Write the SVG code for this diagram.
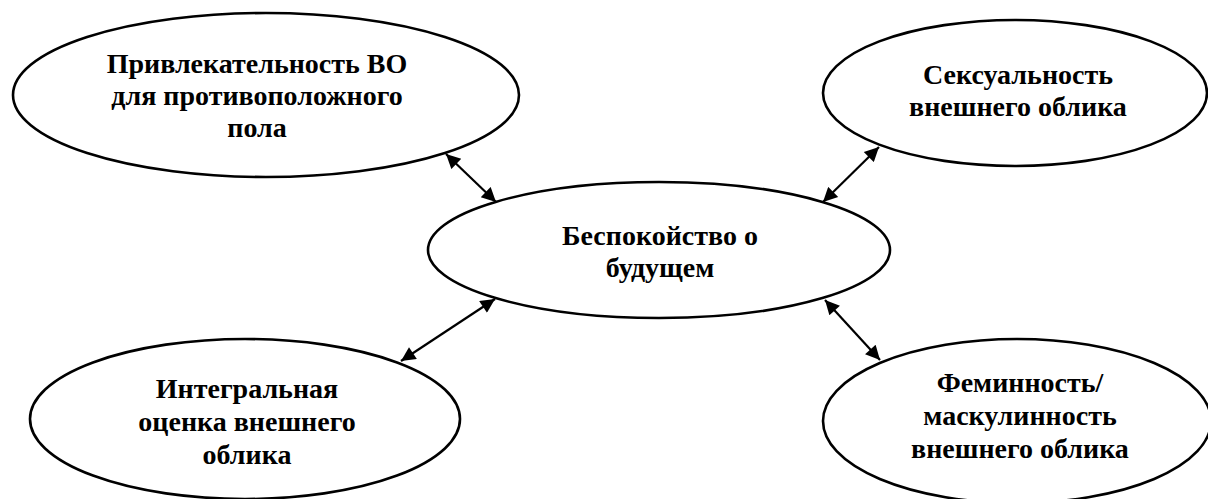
<svg xmlns="http://www.w3.org/2000/svg" width="1208" height="499" viewBox="0 0 1208 499">
<style>
.node ellipse{fill:#fff;stroke:#000;stroke-width:2.6}
.node text{font-family:'Liberation Serif','Times New Roman',serif;font-weight:700;font-size:28px;text-anchor:middle;fill:#000}
.conn line{stroke:#000;stroke-width:2.2}
</style>
<defs>
<marker id="ah" viewBox="0 0 10 10" refX="10" refY="5" markerWidth="7.5" markerHeight="6.5" markerUnits="strokeWidth" orient="auto-start-reverse">
<path d="M0,0 L10,5 L0,10 Z" fill="#000"/>
</marker>
</defs>
<g id="n-attr" class="node">
<ellipse cx="266" cy="95" rx="253" ry="82"/>
<text x="257" y="73">Привлекательность ВО</text>
<text x="257" y="105">для противоположного</text>
<text x="257" y="137">пола</text>
</g>
<g id="n-sex" class="node">
<ellipse cx="1015" cy="93" rx="192" ry="73"/>
<text x="1018" y="84">Сексуальность</text>
<text x="1018" y="116">внешнего облика</text>
</g>
<g id="n-center" class="node">
<ellipse cx="659" cy="250" rx="231" ry="68"/>
<text x="660" y="245">Беспокойство о</text>
<text x="660" y="277">будущем</text>
</g>
<g id="n-integral" class="node">
<ellipse cx="245" cy="419" rx="215" ry="80"/>
<text x="247" y="398">Интегральная</text>
<text x="247" y="431">оценка внешнего</text>
<text x="247" y="464">облика</text>
</g>
<g id="n-fem" class="node">
<ellipse cx="1017" cy="421" rx="194" ry="82"/>
<text x="1020" y="392">Феминность/</text>
<text x="1020" y="425">маскулинность</text>
<text x="1020" y="458">внешнего облика</text>
</g>
<g id="connectors" class="conn">
<line x1="446" y1="154" x2="496" y2="202" marker-start="url(#ah)" marker-end="url(#ah)"/>
<line x1="879" y1="147" x2="823" y2="202" marker-start="url(#ah)" marker-end="url(#ah)"/>
<line x1="495" y1="299" x2="401" y2="361" marker-start="url(#ah)" marker-end="url(#ah)"/>
<line x1="825" y1="300" x2="880" y2="360" marker-start="url(#ah)" marker-end="url(#ah)"/>
</g>
</svg>
